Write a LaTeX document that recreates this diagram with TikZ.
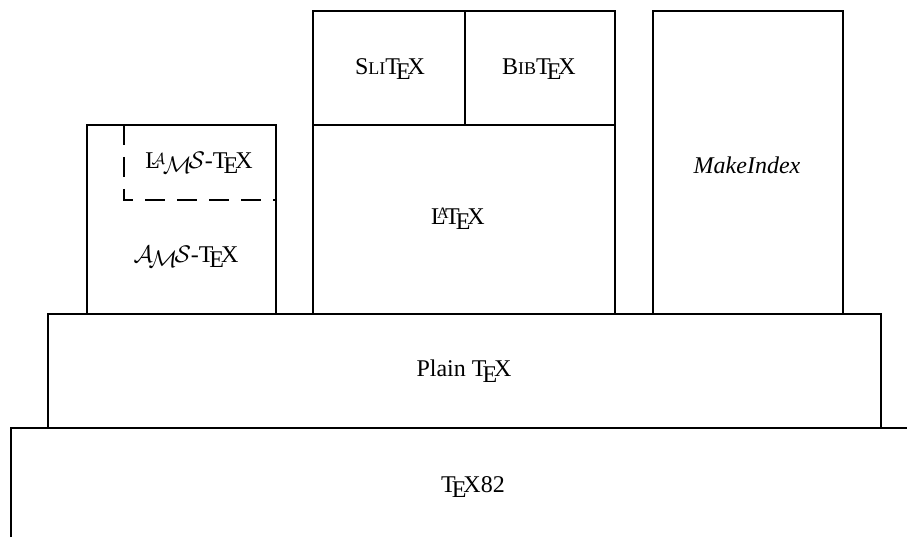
\documentclass[tikz,border=0pt]{standalone}
\usepackage{fontspec}
\setmainfont{Liberation Serif}
\usepackage{tikz}
\newcommand{\amslogo}{$\mathcal{A}$\kern-.1667em\lower.5ex\hbox{$\mathcal{M}$}\kern-.125em$\mathcal{S}$}
\newcommand{\lamslogo}{L\kern-.35em\raise.35ex\hbox{\footnotesize$\mathcal{A}$}\kern-.1em\lower.5ex\hbox{$\mathcal{M}$}\kern-.125em$\mathcal{S}$}
\newcommand{\slitex}{S{\small LI}\TeX}
\newcommand{\bibtex}{B{\small IB}\TeX}

\begin{document}
\begin{tikzpicture}[x=0.5pt,y=0.5pt,font=\large,line width=1.4pt,
  dashbox/.style={dash pattern=on 10pt off 6pt}]
\useasboundingbox (0,0) rectangle (907,537);
% base layers
\draw (11,0) -- (11,109) -- (907,109); \node (tex) at (473,50) {\TeX82};
\draw (48,109) rectangle (881,223); \node (plain) at (464,166) {Plain \TeX};
% macro packages
\draw (87,223) rectangle (276,412); \node (ams) at (186,280) {\amslogo-\TeX};
\draw[dashbox] (124,412) -- (124,337) -- (276,337); \node (lams) at (199,374) {\lamslogo-\TeX};
\draw (313,223) rectangle (615,412); \node (latex) at (458,318) {\LaTeX};
\draw (313,412) rectangle (465,526); \node (slitex) at (390,468) {\slitex};
\draw (465,412) rectangle (615,526); \node (bibtex) at (539,468) {\bibtex};
\draw (653,223) rectangle (843,526); \node (mkidx) at (747,372) {\textit{MakeIndex}};
\end{tikzpicture}
\end{document}
